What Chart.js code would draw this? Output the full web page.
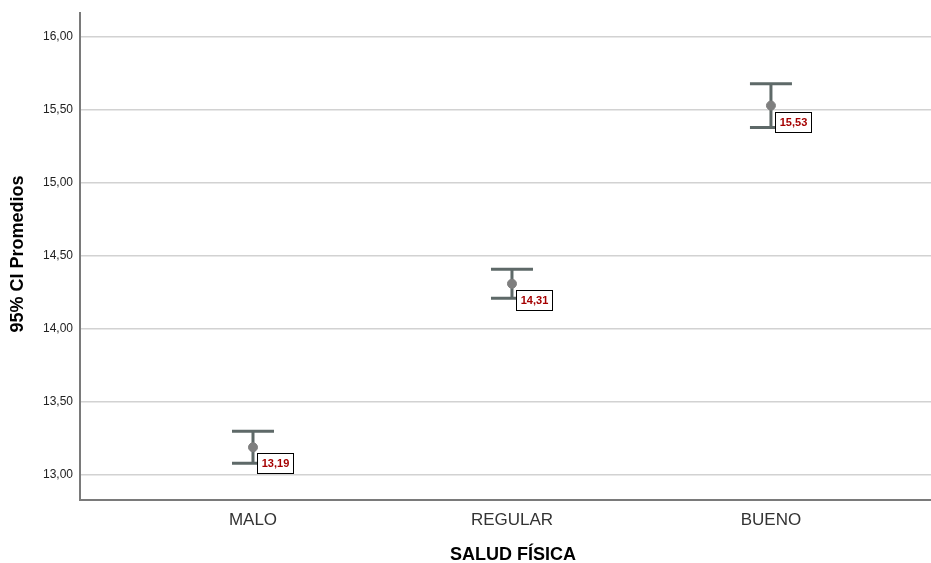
<!DOCTYPE html>
<html>
<head>
<meta charset="utf-8">
<script src="https://cdn.jsdelivr.net/npm/chart.js@4.4.1/dist/chart.umd.min.js"></script>
<style>
  html, body { margin: 0; padding: 0; background: #fff; }
  #wrap { width: 931px; height: 563px; position: relative; }
</style>
</head>
<body>
<div id="wrap"><canvas id="grafico"></canvas></div>
<script>
// datos
const categorias = ['MALO', 'REGULAR', 'BUENO'];
const medias = [13.19, 14.31, 15.53];
const limInferior = [13.08, 14.21, 15.38];
const limSuperior = [13.30, 14.41, 15.68];
const ticksY = [13.0, 13.5, 14.0, 14.5, 15.0, 15.5, 16.0];

const fmt = v => v.toFixed(2).replace('.', ',');
const fuente = '"Liberation Sans", Arial, sans-serif';

// barras de error + etiquetas de la media
const barrasError = {
    id: 'barrasError',
    beforeDatasetsDraw(chart) {
        const ctx = chart.ctx;
        const xs = chart.scales.x, ys = chart.scales.y;
        ctx.save();
        ctx.strokeStyle = '#5e6968';
        ctx.lineWidth = 3;
        categorias.forEach((c, i) => {
            const x = xs.getPixelForValue(i + 1);
            const yA = ys.getPixelForValue(limSuperior[i]);
            const yB = ys.getPixelForValue(limInferior[i]);
            ctx.beginPath();
            ctx.moveTo(x, yA); ctx.lineTo(x, yB);
            ctx.moveTo(x - 21, yA); ctx.lineTo(x + 21, yA);
            ctx.moveTo(x - 21, yB); ctx.lineTo(x + 21, yB);
            ctx.stroke();
        });
        ctx.restore();
    },
    afterDatasetsDraw(chart) {
        const ctx = chart.ctx;
        const xs = chart.scales.x, ys = chart.scales.y;
        ctx.save();
        ctx.font = 'bold 11px ' + fuente;
        ctx.textAlign = 'center';
        ctx.textBaseline = 'middle';
        medias.forEach((m, i) => {
            const x = xs.getPixelForValue(i + 1);
            const y = ys.getPixelForValue(m);
            const bx = Math.round(x + 4) + 0.5, by = Math.round(y + 6) + 0.5;
            ctx.fillStyle = '#ffffff';
            ctx.fillRect(bx, by, 36, 20);
            ctx.strokeStyle = '#000000';
            ctx.lineWidth = 1;
            ctx.strokeRect(bx, by, 36, 20);
            ctx.fillStyle = '#a50000';
            ctx.fillText(fmt(m), bx + 18, by + 10.5);
        });
        // titulos de los ejes
        ctx.fillStyle = '#000';
        ctx.textBaseline = 'alphabetic';
        ctx.font = 'bold 18px ' + fuente;
        ctx.fillText('SALUD FÍSICA', 513, 560);
        ctx.translate(23, 254);
        ctx.rotate(-Math.PI / 2);
        ctx.fillText('95% CI Promedios', 0, 0);
        ctx.restore();
    }
};

const ctx = document.getElementById('grafico').getContext('2d');
const grafico = new Chart(ctx, {
    type: 'scatter',
    data: {
        datasets: [{
            label: 'Media',
            data: medias.map((m, i) => ({ x: i + 1, y: m })),
            backgroundColor: '#7f7f7f',
            borderColor: '#7f7f7f',
            pointRadius: 4.5,
            pointHoverRadius: 4.5
        }]
    },
    options: {
        responsive: true,
        maintainAspectRatio: false,
        animation: false,
        layout: { autoPadding: false, padding: { top: 13, left: 0, right: 0, bottom: 0 } },
        plugins: {
            legend: { display: false },
            tooltip: { enabled: false }
        },
        scales: {
            x: {
                type: 'linear',
                min: 0.332,
                max: 3.618,
                afterBuildTicks: s => { s.ticks = [1, 2, 3].map(v => ({ value: v })); },
                afterFit: s => { s.height = 63; s.paddingLeft = 0; s.paddingRight = 0; },
                grid: { color: 'rgba(0,0,0,0)', drawTicks: false },
                border: { color: '#7a7a7a', width: 2 },
                ticks: {
                    padding: 10,
                    color: '#333',
                    font: { family: fuente, size: 17 },
                    callback: v => categorias[v - 1] || ''
                }
            },
            y: {
                min: 12.829,
                max: 16.164,
                afterBuildTicks: s => { s.ticks = ticksY.map(v => ({ value: v })); },
                afterFit: s => { s.width = 80; s.paddingTop = 0; s.paddingBottom = 0; },
                grid: { color: '#d2d2d2', lineWidth: 1.5, drawTicks: false },
                border: { color: '#7a7a7a', width: 2 },
                ticks: {
                    padding: 7,
                    color: '#222',
                    font: { family: fuente, size: 12 },
                    callback: v => fmt(v)
                }
            }
        }
    },
    plugins: [barrasError]
});
</script>
</body>
</html>
